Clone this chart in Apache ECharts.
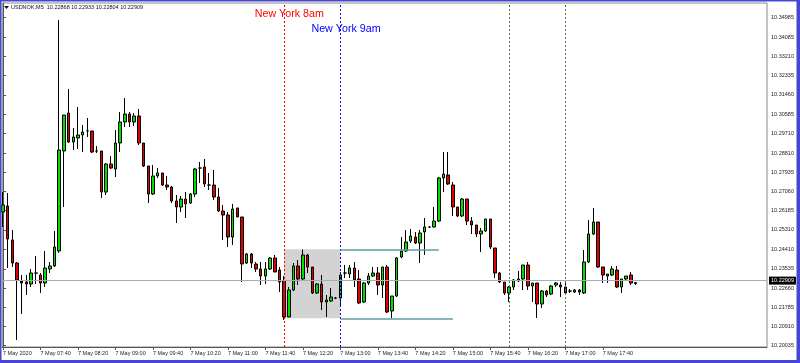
<!DOCTYPE html>
<html><head><meta charset="utf-8">
<script src="https://cdn.jsdelivr.net/npm/echarts@6/dist/echarts.min.js"></script>
<style>html,body{margin:0;padding:0;background:#fff}#c{width:800px;height:363px}</style>
</head><body><div id="c"></div>
<script>
const headerText = 'USDNOK,M5  10.22868 10.22933 10.22804 10.22909';

const opens = [
10.26125,10.26399,10.24850,10.23802,10.22982,10.22937,10.22846,10.23347,10.23256,10.22891,
10.23529,10.23666,10.24349,10.28904,10.30635,10.29314,10.29496,10.29633,10.29815,10.29815,
10.28904,10.28904,10.27036,10.28312,10.28084,10.29268,10.30225,10.30589,10.30225,10.30498,
10.29268,10.28221,10.26945,10.27765,10.27902,10.27355,10.27264,10.26626,10.26353,10.26718,
10.26535,10.26945,10.28130,10.28175,10.27355,10.27355,10.26809,10.26171,10.25989,10.24987,
10.26308,10.25898,10.23802,10.24212,10.23757,10.23529,10.23210,10.23529,10.24030,10.23483,
10.22982,10.21343,10.22573,10.23666,10.23074,10.24167,10.23620,10.22436,10.22846,10.22026,
10.22071,10.22208,10.22208,10.23347,10.23301,10.23575,10.23074,10.22026,10.22891,10.23210,
10.23347,10.22800,10.23620,10.21616,10.22299,10.24076,10.24349,10.24804,10.24987,10.24713,
10.25214,10.25442,10.25442,10.25715,10.27674,10.27811,10.27355,10.26353,10.25943,10.26718,
10.25715,10.25533,10.25123,10.25260,10.25807,10.24486,10.23347,10.22937,10.22436,10.22709,
10.22982,10.23074,10.23711,10.22755,10.22891,10.21935,10.22527,10.22390,10.22800,10.22800,
10.22709,10.22527,10.22481,10.22573,10.22436,10.23848,10.25123,10.25670,10.23620,10.23210,
10.23256,10.23483,10.22709,10.23074,10.23256,10.22868];

const closes = [
10.26444,10.24896,10.23802,10.23028,10.22891,10.22846,10.23347,10.23340,10.22891,10.23575,
10.23666,10.24531,10.28949,10.30544,10.29314,10.29542,10.29633,10.29769,10.29820,10.28858,
10.28900,10.27036,10.28312,10.28130,10.29268,10.30225,10.30589,10.30225,10.30498,10.29268,
10.28221,10.26945,10.27765,10.27902,10.27355,10.27264,10.26626,10.26353,10.26718,10.26490,
10.26945,10.28084,10.28125,10.27401,10.27350,10.26809,10.26171,10.25989,10.24987,10.26262,
10.25898,10.23757,10.24212,10.23802,10.23529,10.23210,10.23529,10.24030,10.23392,10.22937,
10.21343,10.22573,10.23666,10.23074,10.24167,10.23620,10.22436,10.22846,10.22026,10.22117,
10.22254,10.22203,10.23256,10.23342,10.23575,10.23028,10.21980,10.22891,10.23210,10.23347,
10.22800,10.23620,10.21570,10.22299,10.24030,10.24349,10.24759,10.25032,10.24713,10.25169,
10.25442,10.25437,10.25715,10.27674,10.27856,10.27401,10.26353,10.25943,10.26718,10.25715,
10.25533,10.25123,10.25260,10.25807,10.24531,10.23347,10.22937,10.22436,10.22709,10.23028,
10.23074,10.23711,10.22755,10.22891,10.21935,10.22527,10.22345,10.22755,10.22891,10.22709,
10.22436,10.22522,10.22573,10.22481,10.23848,10.25123,10.25670,10.23620,10.23256,10.23301,
10.23529,10.22709,10.23074,10.23210,10.22891,10.22909];

const lows = [
10.25442,10.23575,10.23620,10.20295,10.21479,10.22345,10.22709,10.22846,10.22436,10.22709,
10.23347,10.23620,10.24258,10.26353,10.29268,10.28949,10.28995,10.28858,10.29542,10.28813,
10.28813,10.26763,10.26900,10.28084,10.27720,10.28858,10.29997,10.29997,10.30043,10.29177,
10.28175,10.26535,10.26900,10.27674,10.27310,10.27127,10.26535,10.25624,10.26125,10.25852,
10.26490,10.26809,10.27446,10.27264,10.27127,10.26672,10.26125,10.24850,10.24531,10.24622,
10.25898,10.22937,10.23757,10.23575,10.23392,10.22800,10.22846,10.23483,10.23392,10.22481,
10.21206,10.21343,10.22527,10.22800,10.23028,10.23347,10.22390,10.22390,10.21661,10.21343,
10.22026,10.22160,10.21798,10.23119,10.23119,10.22709,10.21935,10.21980,10.22800,10.23165,
10.22345,10.22208,10.21525,10.21283,10.22254,10.24030,10.24303,10.24713,10.24668,10.23802,
10.24167,10.25397,10.25420,10.25670,10.27036,10.27355,10.25943,10.25898,10.25898,10.25533,
10.25123,10.24987,10.24303,10.25214,10.24440,10.23119,10.22891,10.22345,10.22026,10.22573,
10.22937,10.22573,10.22573,10.22026,10.21297,10.21753,10.22254,10.22345,10.22709,10.22254,
10.22345,10.22436,10.22436,10.22345,10.22390,10.23800,10.25078,10.23575,10.22891,10.22891,
10.23210,10.22664,10.22436,10.23028,10.22800,10.22804];

const highs = [
10.27036,10.26991,10.25305,10.23848,10.23256,10.23256,10.23529,10.24121,10.23347,10.24349,
10.23848,10.25260,10.34871,10.30544,10.31728,10.29952,10.30908,10.30088,10.30407,10.29815,
10.29132,10.28904,10.28357,10.28676,10.29860,10.30680,10.31318,10.30680,10.30635,10.30817,
10.29268,10.28221,10.28266,10.28130,10.27902,10.27765,10.27310,10.26900,10.26854,10.27036,
10.26991,10.28130,10.28403,10.28540,10.27902,10.28038,10.27219,10.26444,10.26125,10.26490,
10.26308,10.25898,10.24258,10.24258,10.23848,10.23848,10.23848,10.24076,10.24167,10.23620,
10.23210,10.22709,10.23802,10.23939,10.24420,10.24212,10.23620,10.22891,10.23256,10.22345,
10.22664,10.22254,10.23392,10.23711,10.23711,10.23848,10.23483,10.22937,10.23347,10.23620,
10.23620,10.23620,10.23711,10.22299,10.24076,10.24987,10.25305,10.25351,10.25214,10.25305,
10.25852,10.25460,10.26353,10.27720,10.28858,10.28858,10.27492,10.26353,10.26763,10.26718,
10.25898,10.25533,10.25397,10.25807,10.25807,10.24486,10.23392,10.22937,10.22755,10.23074,
10.23438,10.23711,10.23848,10.22891,10.22891,10.22573,10.22573,10.22800,10.22937,10.22937,
10.23028,10.22618,10.22618,10.22618,10.24394,10.25761,10.26308,10.25670,10.23620,10.23301,
10.23666,10.23666,10.23074,10.23210,10.23392,10.22933];

const timeTickIndex = [0,8,16,24,32,40,48,56,64,72,80,88,96,104,112,120,128];
const timeTickLabels = ['7 May 2020','7 May 07:40','7 May 08:20','7 May 09:00','7 May 09:40',
  '7 May 10:20','7 May 11:00','7 May 11:40','7 May 12:20','7 May 13:00','7 May 13:40',
  '7 May 14:20','7 May 15:00','7 May 15:40','7 May 16:20','7 May 17:00','7 May 17:40'];
const priceTicks = [10.34985,10.34085,10.33210,10.32335,10.31460,10.30585,10.29710,10.28810,
  10.27935,10.27060,10.26185,10.25310,10.24410,10.23535,10.22660,10.21785,10.20910,10.20035];

const bidPrice = 10.22909;
const boxBars = [60, 72];
const boxHigh = 10.24426, boxLow = 10.21283;
const highLineEndBar = 93, lowLineEndBar = 96;
const nyLineBars = [60, 72];
const separatorBars = [108, 120];
const nyLabels = ['New York 8am', 'New York 9am'];
const nyLabelAnchors = [[61.1, 10.35144], [73.2, 10.34461]];

const F = '"Liberation Sans", Arial, sans-serif';
const candleData = opens.map((o, i) => [i, o, closes[i], lows[i], highs[i]]);

const chart = echarts.init(document.getElementById('c'), null, {renderer: 'canvas'});
chart.setOption({
  animation: false,
  backgroundColor: '#ffffff',
  title: {text: headerText, left: 11, top: 4, padding: 0,
    textStyle: {fontSize: 5.5, fontWeight: 'normal', color: '#111', fontFamily: F}},
  grid: {left: 2, right: 33, top: 3, bottom: 16, show: true, borderColor: '#8a8a8a', borderWidth: 1, backgroundColor: '#fff'},
  xAxis: {
    type: 'value', min: -0.149, max: 163.05, splitLine: {show: false},
    axisLine: {onZero: false, lineStyle: {color: '#555'}},
    axisTick: {show: true, customValues: timeTickIndex, length: 3, lineStyle: {color: '#555'}},
    axisLabel: {customValues: timeTickIndex, formatter: v => timeTickLabels[timeTickIndex.indexOf(Math.round(v))] || '',
      align: 'left', margin: 3, fontSize: 5.5, color: '#222', fontFamily: F}
  },
  yAxis: {
    type: 'value', position: 'right', min: 10.19976, max: 10.35645, scale: true, splitLine: {show: false},
    axisLine: {show: true, lineStyle: {color: '#555'}},
    axisTick: {show: true, customValues: priceTicks, length: 3, lineStyle: {color: '#555'}},
    axisLabel: {customValues: priceTicks, formatter: v => v.toFixed(5), margin: 4, fontSize: 5.5, color: '#222', fontFamily: F}
  },
  graphic: [
    {type: 'rect', shape: {x: 0, y: 0, width: 800, height: 1.5}, style: {fill: '#4646d2'}, z: 100},
    {type: 'rect', shape: {x: 0, y: 0, width: 1.5, height: 363}, style: {fill: '#4646d2'}, z: 100},
    {type: 'rect', shape: {x: 796.5, y: 0, width: 3.5, height: 363}, style: {fill: '#4646d2'}, z: 100},
    {type: 'rect', shape: {x: 0, y: 360, width: 800, height: 3}, style: {fill: '#4646d2'}, z: 100},
    {type: 'polygon', shape: {points: [[4, 6], [9, 6], [6.5, 9]]}, style: {fill: '#111'}, z: 100}
  ],
  series: [
    {
      type: 'line', data: [], z: 1, silent: true,
      markArea: {silent: true, itemStyle: {color: '#d3d3d3'},
        data: [[{coord: [boxBars[0], boxHigh]}, {coord: [boxBars[1], boxLow]}]]}
    },
    {
      type: 'candlestick', z: 3, barWidth: 3,
      encode: {x: 0, y: [1, 2, 3, 4]},
      data: candleData,
      itemStyle: {color: '#00e000', color0: '#e00000', borderColor: '#000', borderColor0: '#000', borderColorDoji: '#000', borderWidth: 1}
    },
    {
      type: 'line', data: [], z: 4, silent: true,
      markLine: {
        silent: true, symbol: ['none', 'none'], label: {show: false},
        data: [
          {xAxis: nyLineBars[0], lineStyle: {color: '#ff0000', type: [2, 2], width: 1}},
          {xAxis: nyLineBars[1], lineStyle: {color: '#0000ff', type: [2, 2], width: 1}},
          {xAxis: separatorBars[0], lineStyle: {color: '#4f7a4f', type: [2, 2], width: 1}},
          {xAxis: separatorBars[1], lineStyle: {color: '#4f7a4f', type: [2, 2], width: 1}},
          [{coord: [boxBars[1], boxHigh], lineStyle: {color: '#5f9ea0', type: 'solid', width: 1.5}}, {coord: [highLineEndBar, boxHigh]}],
          [{coord: [boxBars[1], boxLow], lineStyle: {color: '#5f9ea0', type: 'solid', width: 1.5}}, {coord: [lowLineEndBar, boxLow]}],
          {yAxis: bidPrice, lineStyle: {color: '#a4acb4', type: 'solid', width: 1},
            label: {show: true, position: 'end', distance: 2, formatter: bidPrice.toFixed(5),
              backgroundColor: '#000', color: '#fff', padding: [1, 2, 1, 2], fontSize: 5.5, fontFamily: F}}
        ]
      },
      markPoint: {
        silent: true, symbol: 'circle', symbolSize: 1, itemStyle: {color: 'rgba(0,0,0,0)'},
        label: {show: true, position: 'inside', fontSize: 10.7, fontFamily: F, formatter: p => p.name},
        data: [
          {name: nyLabels[0], coord: nyLabelAnchors[0], label: {color: '#ff0000'}},
          {name: nyLabels[1], coord: nyLabelAnchors[1], label: {color: '#0000ff'}}
        ]
      }
    }
  ]
});
</script>
</body></html>
